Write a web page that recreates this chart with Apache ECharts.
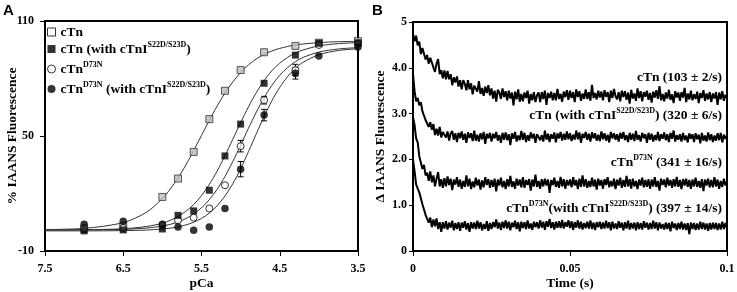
<!DOCTYPE html>
<html><head><meta charset="utf-8">
<script src="https://cdn.jsdelivr.net/npm/echarts@6/dist/echarts.min.js"></script>
<style>html,body{margin:0;padding:0;background:#fff}#c{width:737px;height:292px}</style>
</head><body><div id="c"></div>
<script>
// ---------- Panel A data ----------
const PCA = [7.0, 6.5, 6.0, 5.8, 5.6, 5.4, 5.2, 5.0, 4.7, 4.3, 4.0, 3.5];
const CTN = [1.5, 3, 18.2, 27.8, 41.7, 58.8, 73.6, 84.4, 93.7, 97, 98.7, 99.5];
const CTN_S = [0.5, 1, 1.5, 8.6, 10.9, 21.7, 39.6, 56.2, 77.5, 92.2, 98.4, 98.6];
const D73N = [2, 2, 3.5, 6, 7.4, 12.2, 24.3, 44.7, 68.7, 84.4, 97.5, 98];
const D73N_S = [4, 5.5, 4, 2.5, 0.8, 2.5, 12.2, 32.7, 60.9, 82.7, 91.7, 96.5];
const ERR_PCA = [5.0, 4.7, 4.3];
const D73N_ERR = [3, 2, 3];
const D73N_S_ERR = [4, 3, 3];
// fitted curves
const FIT_PCA = [7.5,7.0,6.5,6.2,6.0,5.9,5.8,5.7,5.6,5.5,5.4,5.3,5.2,5.1,5.0,4.9,4.8,4.7,4.6,4.5,4.4,4.3,4.2,4.0,3.75,3.5];
const FIT_CTN = [1.2,1.8,4.8,10.3,17.4,22.3,28.1,34.9,42.4,50.3,58.1,65.6,72.4,78.2,83.1,87.1,90.2,92.6,94.4,95.7,96.7,97.5,98.0,98.7,99.2,99.3];
const FIT_CTN_S = [1.0,1.1,1.6,2.8,4.5,6.0,8.0,10.7,14.2,18.9,24.7,31.7,39.7,48.3,57.0,65.2,72.6,78.9,84.1,88.0,91.0,93.3,94.9,97.0,98.2,98.7];
const FIT_D73N = [1.0,1.05,1.3,2.0,3.0,3.9,5.1,6.9,9.3,12.5,16.8,22.2,28.9,36.7,45.2,54.0,62.4,70.0,76.5,81.7,85.7,88.8,91.0,93.8,95.4,96.1];
const FIT_D73N_S = [0.5,0.5,0.64,0.94,1.47,1.9,2.6,3.6,5.0,7.0,9.8,13.6,18.7,25.1,32.9,41.8,51.1,60.2,68.4,75.4,81.0,85.3,88.5,92.4,94.6,95.5];
const A_XTICKS = [7.5, 6.5, 5.5, 4.5, 3.5];
const A_YTICKS = [-10, 50, 110];

// ---------- Panel B data (sampled every DT seconds) ----------
const DT = 0.0005;
const TR_CTN = [
4.75,4.58,4.70,4.49,4.57,4.30,4.43,4.45,4.18,4.28,
4.09,4.22,4.25,4.01,3.91,4.09,4.19,3.86,3.95,3.77,
3.94,3.75,3.93,3.75,3.86,3.62,3.79,3.68,3.81,3.59,
3.73,3.53,3.73,3.65,3.51,3.73,3.53,3.66,3.42,3.61,
3.64,3.48,3.71,3.43,3.56,3.39,3.59,3.45,3.62,3.40,
3.55,3.33,3.50,3.26,3.52,3.46,3.32,3.55,3.36,3.49,
3.29,3.50,3.33,3.46,3.18,3.48,3.31,3.53,3.26,3.43,
3.27,3.46,3.34,3.50,3.22,3.43,3.29,3.47,3.25,3.40,
3.46,3.25,3.47,3.32,3.50,3.19,3.45,3.34,3.48,3.29,
3.45,3.29,3.54,3.32,3.43,3.26,3.48,3.36,3.51,3.30,
3.50,3.34,3.47,3.25,3.53,3.36,3.49,3.28,3.44,3.32,
3.53,3.32,3.47,3.28,3.63,3.34,3.45,3.31,3.50,3.35,
3.48,3.29,3.51,3.37,3.47,3.25,3.50,3.34,3.54,3.38,
3.31,3.47,3.27,3.50,3.36,3.49,3.30,3.46,3.22,3.52,
3.33,3.44,3.28,3.55,3.34,3.49,3.27,3.47,3.37,3.50,
3.30,3.45,3.24,3.48,3.35,3.51,3.32,3.60,3.29,3.43,
3.27,3.46,3.33,3.52,3.30,3.42,3.23,3.49,3.35,3.46,
3.28,3.47,3.35,3.56,3.25,3.44,3.31,3.50,3.29,3.42,
3.32,3.48,3.23,3.45,3.34,3.51,3.28,3.44,3.31,3.47,
3.25,3.44,3.33,3.47,3.19,3.46,3.31,3.49,3.28,3.41,3.34];
const TR_CTN_S = [
3.87,3.49,3.27,3.34,3.18,3.25,3.05,3.05,2.86,2.89,
2.71,2.81,2.65,2.77,2.53,2.67,2.52,2.71,2.48,2.60,
2.64,2.48,2.61,2.41,2.57,2.62,2.43,2.57,2.38,2.58,
2.46,2.61,2.43,2.56,2.36,2.59,2.47,2.57,2.40,2.63,
2.41,2.54,2.39,2.57,2.44,2.60,2.34,2.56,2.46,2.58,
2.39,2.56,2.46,2.60,2.41,2.53,2.36,2.58,2.43,2.59,
2.42,2.55,2.31,2.57,2.45,2.60,2.39,2.52,2.42,2.62,
2.43,2.58,2.38,2.53,2.41,2.59,2.46,2.56,2.36,2.55,
2.59,2.42,2.53,2.39,2.63,2.43,2.56,2.38,2.55,2.45,
2.59,2.37,2.57,2.46,2.60,2.41,2.56,2.43,2.61,2.44,
2.57,2.40,2.54,2.43,2.63,2.44,2.59,2.36,2.56,2.47,
2.60,2.43,2.56,2.39,2.59,2.46,2.57,2.41,2.54,2.40,
2.61,2.44,2.57,2.41,2.54,2.37,2.60,2.46,2.57,2.43,
2.55,2.39,2.58,2.45,2.60,2.42,2.53,2.38,2.58,2.43,
2.56,2.40,2.62,2.43,2.53,2.39,2.58,2.46,2.55,2.36,
2.58,2.43,2.56,2.39,2.53,2.42,2.60,2.40,2.55,2.45,
2.59,2.42,2.55,2.38,2.58,2.45,2.63,2.39,2.53,2.43,
2.55,2.39,2.58,2.42,2.52,2.37,2.57,2.45,2.55,2.38,
2.57,2.44,2.54,2.35,2.58,2.41,2.52,2.39,2.59,2.42,
2.55,2.38,2.52,2.41,2.57,2.42,2.58,2.37,2.54,2.45,2.52];
const TR_D73N = [
2.92,2.75,2.46,2.37,2.07,2.04,1.79,1.88,1.65,1.71,
1.53,1.74,1.50,1.65,1.41,1.58,1.72,1.41,1.57,1.38,
1.59,1.41,1.63,1.44,1.58,1.33,1.56,1.45,1.61,1.40,
1.56,1.36,1.53,1.40,1.65,1.41,1.58,1.35,1.52,1.39,
1.60,1.43,1.56,1.34,1.54,1.39,1.61,1.44,1.57,1.38,
1.55,1.40,1.58,1.30,1.56,1.43,1.60,1.39,1.53,1.35,
1.57,1.41,1.64,1.40,1.52,1.36,1.58,1.43,1.56,1.39,
1.61,1.38,1.55,1.44,1.57,1.32,1.56,1.41,1.67,1.40,
1.53,1.36,1.57,1.41,1.58,1.43,1.56,1.27,1.55,1.44,
1.60,1.40,1.53,1.38,1.62,1.41,1.57,1.36,1.55,1.43,
1.56,1.39,1.61,1.43,1.55,1.35,1.58,1.40,1.65,1.41,
1.57,1.38,1.53,1.40,1.60,1.41,1.56,1.34,1.58,1.43,
1.55,1.36,1.57,1.44,1.61,1.39,1.53,1.41,1.58,1.35,
1.56,1.43,1.60,1.38,1.55,1.40,1.64,1.41,1.57,1.36,
1.58,1.41,1.53,1.35,1.56,1.43,1.60,1.39,1.55,1.40,
1.57,1.36,1.56,1.41,1.61,1.40,1.53,1.32,1.58,1.44,
1.56,1.39,1.60,1.43,1.55,1.38,1.57,1.41,1.62,1.40,
1.55,1.35,1.57,1.43,1.58,1.40,1.55,1.36,1.56,1.41,
1.60,1.40,1.53,1.38,1.57,1.31,1.56,1.43,1.58,1.39,
1.55,1.39,1.61,1.41,1.56,1.36,1.53,1.40,1.58,1.43,1.52];
const TR_D73N_S = [
2.00,1.74,1.45,1.44,1.28,1.27,1.02,0.98,0.79,0.83,
0.62,0.73,0.52,0.69,0.54,0.71,0.48,0.63,0.42,0.63,
0.49,0.65,0.47,0.62,0.51,0.66,0.45,0.61,0.48,0.63,
0.44,0.62,0.51,0.65,0.47,0.61,0.42,0.63,0.49,0.62,
0.48,0.66,0.49,0.63,0.45,0.59,0.48,0.65,0.44,0.61,
0.48,0.63,0.52,0.69,0.49,0.62,0.46,0.64,0.50,0.67,
0.49,0.64,0.45,0.62,0.52,0.66,0.48,0.63,0.43,0.64,
0.50,0.63,0.48,0.67,0.49,0.60,0.46,0.64,0.52,0.63,
0.49,0.67,0.51,0.64,0.46,0.65,0.53,0.70,0.50,0.63,
0.47,0.64,0.51,0.65,0.50,0.68,0.49,0.63,0.53,0.67,
0.50,0.65,0.46,0.63,0.51,0.67,0.49,0.64,0.47,0.61,
0.50,0.64,0.49,0.67,0.48,0.62,0.46,0.63,0.52,0.64,
0.48,0.62,0.49,0.66,0.50,0.63,0.45,0.64,0.49,0.60,
0.48,0.65,0.51,0.62,0.45,0.63,0.49,0.66,0.47,0.61,
0.49,0.62,0.45,0.63,0.48,0.61,0.47,0.65,0.51,0.62,
0.47,0.61,0.48,0.66,0.49,0.63,0.45,0.62,0.49,0.59,
0.47,0.62,0.48,0.61,0.43,0.64,0.50,0.60,0.46,0.61,
0.48,0.64,0.47,0.60,0.46,0.61,0.37,0.62,0.48,0.61,
0.46,0.60,0.47,0.64,0.48,0.62,0.47,0.60,0.44,0.61,
0.47,0.62,0.48,0.61,0.46,0.60,0.47,0.64,0.48,0.61,0.50];
const B_LABELS = [
  '{m|cTn (103 \u00b1 2/s)}',
  '{m|cTn (with cTnI}{s|S22D/S23D}{m|) (320 \u00b1 6/s)}',
  '{m|cTn}{s|D73N}{m| (341 \u00b1 16/s)}',
  '{m|cTn}{s|D73N}{m|(with cTnI}{s|S22D/S23D}{m|) (397 \u00b1 14/s)}'
];
const LEGEND_TEXT = {
  'cTn': '{m|cTn}',
  'cTn S': '{m|cTn (with cTnI}{s|S22D/S23D}{m|)}',
  'cTn D73N': '{m|cTn}{s|D73N}',
  'cTn D73N S': '{m|cTn}{s|D73N}{m| (with cTnI}{s|S22D/S23D}{m|)}'
};

// ---------- chart ----------
const SERIF = '"Liberation Serif","Times New Roman",serif';
const RICH = {
  m: {fontFamily: SERIF, fontWeight: 'bold', fontSize: 13.5, lineHeight: 16, verticalAlign: 'bottom', color: '#000'},
  s: {fontFamily: SERIF, fontWeight: 'bold', fontSize: 8, lineHeight: 8, padding: [0, 0, 11, 0], verticalAlign: 'top', color: '#000'}
};
const zip = (xs, ys) => xs.map((x, i) => [x, ys[i]]);
const errData = (vals, errs) => ERR_PCA.map((p, k) => {
  const v = vals[PCA.indexOf(p)];
  return [p, v - errs[k], v + errs[k]];
});
function errRender(params, api) {
  const x = api.value(0);
  const lo = api.coord([x, api.value(1)]);
  const hi = api.coord([x, api.value(2)]);
  const w = 3, st = {stroke: '#000', lineWidth: 1};
  return {type: 'group', children: [
    {type: 'line', shape: {x1: lo[0], y1: lo[1], x2: hi[0], y2: hi[1]}, style: st},
    {type: 'line', shape: {x1: lo[0] - w, y1: lo[1], x2: lo[0] + w, y2: lo[1]}, style: st},
    {type: 'line', shape: {x1: hi[0] - w, y1: hi[1], x2: hi[0] + w, y2: hi[1]}, style: st}
  ]};
}
const axisTxt = {fontFamily: SERIF, fontWeight: 'bold', fontSize: 12, color: '#000'};
const nameTxt = {fontFamily: SERIF, fontWeight: 'bold', fontSize: 13.5, color: '#000'};
const axLine = {show: true, onZero: false, lineStyle: {color: '#000', width: 2}};

const fitLine = (name, ys) => ({
  name, type: 'line', xAxisIndex: 0, yAxisIndex: 0, data: zip(FIT_PCA, ys),
  showSymbol: false, smooth: 0.3, silent: true,
  lineStyle: {color: '#333', width: 1}, z: 2
});
const trace = (name, ys) => ({
  name, type: 'line', xAxisIndex: 1, yAxisIndex: 1,
  data: ys.map((v, i) => [i * DT, v]), showSymbol: false, silent: true,
  lineStyle: {color: '#000', width: 2}
});

const option = {
  animation: false,
  backgroundColor: '#fff',
  grid: [
    {left: 45, top: 21, width: 313, height: 230, show: true, borderColor: '#000', borderWidth: 2, outerBoundsMode: 'none', containLabel: false},
    {left: 413, top: 22, width: 314, height: 229, show: true, borderColor: '#000', borderWidth: 2, outerBoundsMode: 'none', containLabel: false}
  ],
  xAxis: [
    {gridIndex: 0, type: 'value', min: 3.5, max: 7.5, inverse: true,
     name: 'pCa', nameLocation: 'middle', nameGap: 26, nameMoveOverlap: false, nameTextStyle: nameTxt,
     axisLine: axLine, splitLine: {show: false},
     axisTick: {customValues: A_XTICKS, length: 5, lineStyle: {color: '#000', width: 1}},
     axisLabel: {customValues: A_XTICKS, formatter: v => v.toFixed(1), margin: 12, ...axisTxt}},
    {gridIndex: 1, type: 'value', min: 0, max: 0.1, interval: 0.05,
     name: 'Time (s)', nameLocation: 'middle', nameGap: 26, nameMoveOverlap: false, nameTextStyle: nameTxt,
     axisLine: axLine, splitLine: {show: false},
     axisTick: {length: 5, lineStyle: {color: '#000', width: 1}},
     axisLabel: {margin: 12, ...axisTxt}}
  ],
  yAxis: [
    {gridIndex: 0, type: 'value', min: -10, max: 110,
     name: '% IAANS Fluorescence', nameLocation: 'middle', nameGap: 25, nameMoveOverlap: false, nameTextStyle: nameTxt,
     axisLine: axLine, splitLine: {show: false},
     axisTick: {customValues: A_YTICKS, length: 5, lineStyle: {color: '#000', width: 1}},
     axisLabel: {customValues: A_YTICKS, margin: 11, ...axisTxt}},
    {gridIndex: 1, type: 'value', min: 0, max: 5, interval: 1,
     name: '\u0394 IAANS Fluorescence', nameLocation: 'middle', nameGap: 25, nameMoveOverlap: false, nameTextStyle: nameTxt,
     axisLine: axLine, splitLine: {show: false},
     axisTick: {length: 4, lineStyle: {color: '#000', width: 1}},
     axisLabel: {margin: 6, formatter: v => (v === 0 || v === 5) ? String(v) : v.toFixed(1), ...axisTxt}}
  ],
  legend: {
    orient: 'vertical', left: 47, top: 26, padding: 0, itemGap: 1,
    itemWidth: 8, itemHeight: 8, selectedMode: false,
    formatter: n => LEGEND_TEXT[n],
    textStyle: {rich: RICH},
    data: [
      {name: 'cTn', icon: 'rect', itemStyle: {color: '#fff', borderColor: '#000', borderWidth: 1}},
      {name: 'cTn S', icon: 'rect', itemStyle: {color: '#000'}},
      {name: 'cTn D73N', icon: 'circle', itemStyle: {color: '#fff', borderColor: '#000', borderWidth: 1}},
      {name: 'cTn D73N S', icon: 'circle', itemStyle: {color: '#000'}}
    ]
  },
  graphic: [
    {type: 'text', left: 3, top: 3, style: {text: 'A', font: 'bold 15px "Liberation Sans", Arial, sans-serif', fill: '#000'}},
    {type: 'text', left: 372, top: 3, style: {text: 'B', font: 'bold 15px "Liberation Sans", Arial, sans-serif', fill: '#000'}},
    ...B_LABELS.map((t, k) => ({
      type: 'text', x: 722, y: [68.7, 106.5, 154, 200][k],
      style: {text: t, rich: RICH, align: 'right', verticalAlign: 'top', fill: '#000'}
    }))
  ],
  series: [
    fitLine('fit cTn', FIT_CTN),
    fitLine('fit cTn S', FIT_CTN_S),
    fitLine('fit D73N', FIT_D73N),
    fitLine('fit D73N S', FIT_D73N_S),
    {name: 'err1', type: 'custom', xAxisIndex: 0, yAxisIndex: 0, renderItem: errRender, data: errData(D73N, D73N_ERR), z: 3, silent: true},
    {name: 'err2', type: 'custom', xAxisIndex: 0, yAxisIndex: 0, renderItem: errRender, data: errData(D73N_S, D73N_S_ERR), z: 3, silent: true},
    {name: 'cTn', type: 'scatter', xAxisIndex: 0, yAxisIndex: 0, data: zip(PCA, CTN), symbol: 'rect', symbolSize: 7, clip: false,
     itemStyle: {color: '#bdbdbd', borderColor: '#333', borderWidth: 1}, z: 4},
    {name: 'cTn S', type: 'scatter', xAxisIndex: 0, yAxisIndex: 0, data: zip(PCA, CTN_S), symbol: 'rect', symbolSize: 7, clip: false,
     itemStyle: {color: '#000'}, z: 5},
    {name: 'cTn D73N', type: 'scatter', xAxisIndex: 0, yAxisIndex: 0, data: zip(PCA, D73N), symbol: 'circle', symbolSize: 7, clip: false,
     itemStyle: {color: '#fff', borderColor: '#000', borderWidth: 1}, z: 4},
    {name: 'cTn D73N S', type: 'scatter', xAxisIndex: 0, yAxisIndex: 0, data: zip(PCA, D73N_S), symbol: 'circle', symbolSize: 7.5, clip: false,
     itemStyle: {color: '#000'}, z: 5},
    trace('cTn trace', TR_CTN),
    trace('cTn S trace', TR_CTN_S),
    trace('D73N trace', TR_D73N),
    trace('D73N S trace', TR_D73N_S)
  ]
};
const chart = echarts.init(document.getElementById('c'), null, {renderer: 'canvas'});
chart.setOption(option);
</script>
</body></html>
